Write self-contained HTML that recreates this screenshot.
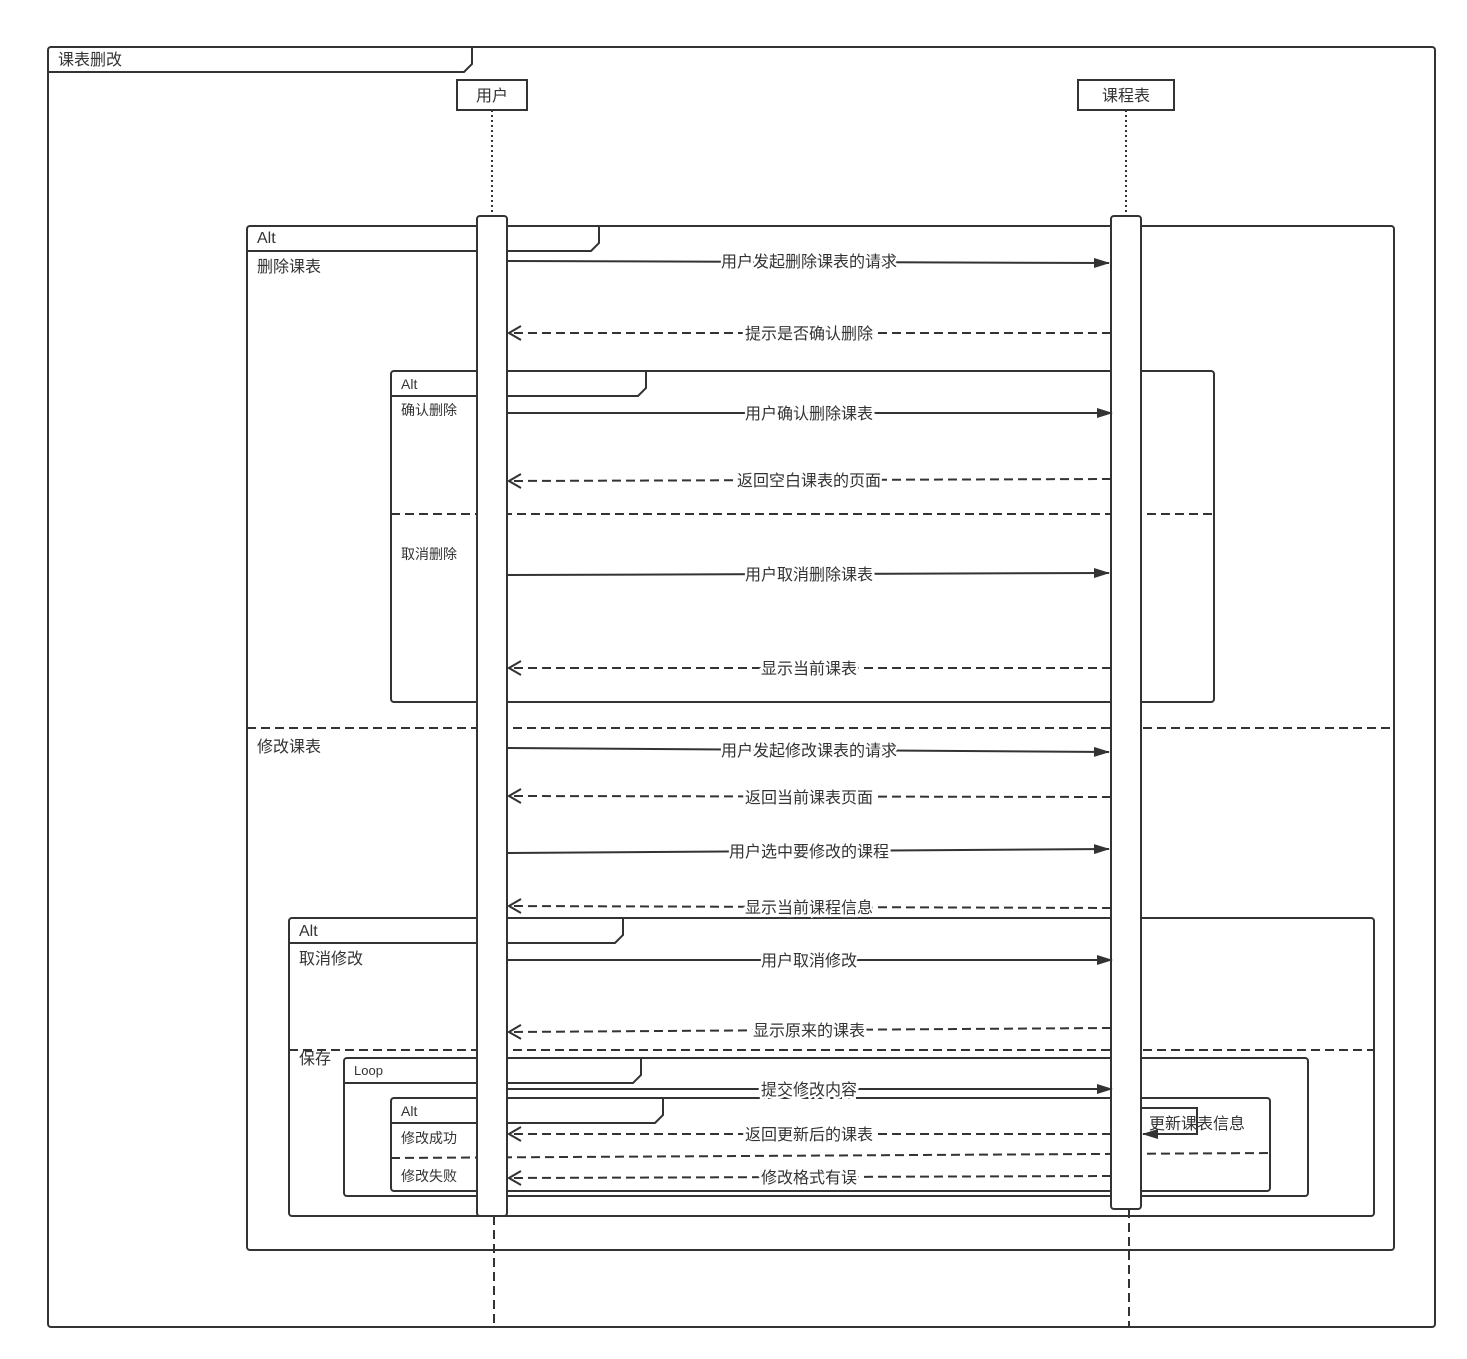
<!DOCTYPE html>
<html><head><meta charset="utf-8"><style>body{margin:0;background:#fff}svg{display:block}text{font-family:"Liberation Sans","Noto Sans CJK SC",sans-serif;fill:#333}</style></head><body>
<svg width="1467" height="1359" viewBox="0 0 1467 1359" xmlns="http://www.w3.org/2000/svg">
<defs>
<marker id="f" markerWidth="16" markerHeight="10" refX="15" refY="5" orient="auto" markerUnits="userSpaceOnUse"><path d="M0,0 L16,5 L0,10 z" fill="#333"/></marker>
<marker id="o" markerWidth="14" markerHeight="16" refX="13" refY="8" orient="auto" markerUnits="userSpaceOnUse"><path d="M1,1 L13,8 L1,15" fill="none" stroke="#333" stroke-width="2"/></marker>
</defs>
<g fill="none" stroke="#333" stroke-width="2">
<rect x="48" y="47" width="1387" height="1280" rx="3"/>
<path d="M48,72 H464 L472,64 V47"/>
<rect x="457" y="80" width="70" height="30" fill="#fff"/>
<rect x="1078" y="80" width="96" height="30" fill="#fff"/>
<path d="M492,110 V216 M1126,110 V216" stroke-dasharray="2,3"/>
<path d="M494,1216 V1327 M1129,1209 V1327" stroke-dasharray="9,5"/>
<rect x="247" y="226" width="1147" height="1024" rx="3"/>
<path d="M247,251 H591 L599,243 V226"/>
<path d="M247,728 H1394" stroke-dasharray="9,5"/>
<rect x="391" y="371" width="823" height="331" rx="3"/>
<path d="M391,396 H638 L646,388 V371"/>
<path d="M391,514 H1214" stroke-dasharray="9,5"/>
<rect x="289" y="918" width="1085" height="298" rx="3"/>
<path d="M289,943 H615 L623,935 V918"/>
<path d="M289,1050 H1374" stroke-dasharray="9,5"/>
<rect x="344" y="1058" width="964" height="138" rx="3"/>
<path d="M344,1083 H633 L641,1075 V1058"/>
<rect x="391" y="1098" width="879" height="93" rx="3"/>
<path d="M391,1123 H655 L663,1115 V1098"/>
<path d="M391,1158 L1270,1153" stroke-dasharray="9,5"/>
<rect x="477" y="216" width="30" height="1000" rx="3" fill="#fff"/>
<rect x="1111" y="216" width="30" height="993" rx="3" fill="#fff"/>
<g marker-end="url(#f)">
<path d="M507,261 L1109,263"/>
<path d="M507,413 L1112,413"/>
<path d="M507,575 L1109,573"/>
<path d="M507,748 L1109,752"/>
<path d="M507,853 L1109,849"/>
<path d="M507,960 L1112,960"/>
<path d="M507,1089 L1112,1089"/>
<path d="M1141,1108 H1197 V1134 H1143"/>
</g>
<g stroke-dasharray="9,5" marker-end="url(#o)">
<path d="M1111,333 L509,333"/>
<path d="M1111,479 L509,481"/>
<path d="M1111,668 L509,668"/>
<path d="M1111,797 L509,796"/>
<path d="M1111,908 L509,906"/>
<path d="M1111,1028 L509,1032"/>
<path d="M1111,1134 L509,1134"/>
<path d="M1111,1176 L509,1178"/>
</g>
</g>
<text x="58" y="65" font-size="16">课表删改</text>
<text x="492" y="101" font-size="16" text-anchor="middle">用户</text>
<text x="1126" y="101" font-size="16" text-anchor="middle">课程表</text>
<text x="257" y="243" font-size="16">Alt</text>
<text x="257" y="272" font-size="16">删除课表</text>
<text x="257" y="752" font-size="16">修改课表</text>
<text x="401" y="389" font-size="14">Alt</text>
<text x="401" y="415" font-size="14">确认删除</text>
<text x="401" y="559" font-size="14">取消删除</text>
<text x="299" y="936" font-size="16">Alt</text>
<text x="299" y="964" font-size="16">取消修改</text>
<text x="299" y="1064" font-size="16">保存</text>
<text x="354" y="1075" font-size="13">Loop</text>
<text x="401" y="1116" font-size="14">Alt</text>
<text x="401" y="1143" font-size="14">修改成功</text>
<text x="401" y="1181" font-size="14">修改失败</text>
<g font-size="16" text-anchor="middle" style="paint-order:stroke" stroke="#fff" stroke-width="5">
<text x="809" y="267">用户发起删除课表的请求</text>
<text x="809" y="339">提示是否确认删除</text>
<text x="809" y="419">用户确认删除课表</text>
<text x="809" y="486">返回空白课表的页面</text>
<text x="809" y="580">用户取消删除课表</text>
<text x="809" y="674">显示当前课表</text>
<text x="809" y="756">用户发起修改课表的请求</text>
<text x="809" y="803">返回当前课表页面</text>
<text x="809" y="857">用户选中要修改的课程</text>
<text x="809" y="913">显示当前课程信息</text>
<text x="809" y="966">用户取消修改</text>
<text x="809" y="1036">显示原来的课表</text>
<text x="809" y="1095">提交修改内容</text>
<text x="809" y="1140">返回更新后的课表</text>
<text x="809" y="1183">修改格式有误</text>
</g>
<text x="1149" y="1129" font-size="16">更新课表信息</text>
</svg>
</body></html>
